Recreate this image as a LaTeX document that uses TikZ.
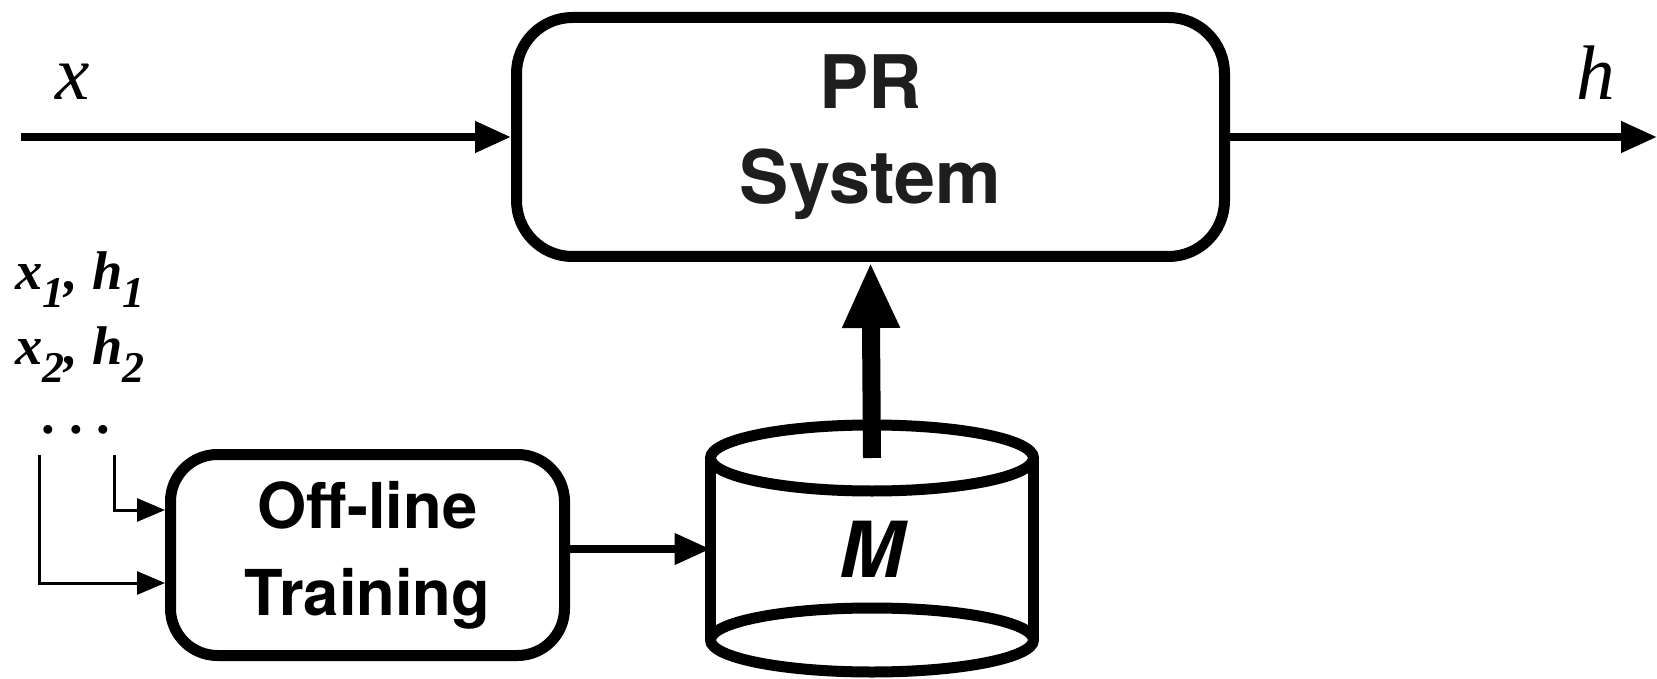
\documentclass[tikz,border=0pt]{standalone}
\usepackage{fontspec}
\setmainfont{Liberation Serif}
\setsansfont{TeX Gyre Heros}
\usepackage{tikz}
\usetikzlibrary{positioning, arrows.meta, calc}
\definecolor{prgray}{HTML}{1E1E1E}
\newcommand{\lowsub}[1]{\raisebox{-5pt}{\fontsize{12.5}{13}\selectfont #1}}

\begin{document}
\begin{tikzpicture}[
  box/.style={draw, line width=0.11cm, rounded corners=#1, align=center, font=\sffamily\bfseries},
  wall/.style={line width=0.11cm},
  flow/.style={->, line width=0.075cm},
  feed/.style={-{Triangle[length=0.28cm, width=0.23cm]}, line width=0.03cm},
  bigflow/.style={-{Triangle[length=0.66cm, width=0.53cm]}, line width=0.18cm},
  sym/.style={font=\fontsize{22}{26}\selectfont\itshape, inner sep=0},
  pairs/.style={font=\fontsize{15.5}{18}\selectfont\bfseries\itshape, inner sep=0, anchor=base west},
  >={Triangle[length=0.36cm, width=0.30cm]}
]
\useasboundingbox (0,0) rectangle (16.57,6.78);
% main system on top, training and model store below
\node[box=0.56cm, minimum width=7.08cm, minimum height=2.39cm, text=prgray,
  font=\sffamily\bfseries\fontsize{21}{27.2}\selectfont] (pr) at (8.705,5.41) {PR\\System};
\node[box=0.47cm, minimum width=3.94cm, minimum height=2.01cm,
  font=\sffamily\bfseries\fontsize{18}{24.7}\selectfont] (off) at (3.675,1.23) {Off-line\\Training};
\node[minimum width=3.23cm, minimum height=1.82cm, outer sep=0,
  font=\sffamily\bfseries\itshape\fontsize{22}{26}\selectfont] (store) at (8.72,1.29) {M};
% cylinder of the model store
\draw[wall] (store.north west) -- (store.south west);
\draw[wall] (store.north east) -- (store.south east);
\draw[wall] (store.north) ellipse [x radius=1.615, y radius=0.33];
\draw[wall] (store.south) ellipse [x radius=1.615, y radius=0.32];
% input and output of the system
\coordinate (in) at (0.21,5.41);
\coordinate (out) at (16.57,5.41);
\draw[flow] (in) -- (pr.west);
\draw[flow] (pr.east) -- (out);
\node[sym, anchor=base] (xlab) at (0.73,5.78) {x};
\node[sym, anchor=base] (hlab) at (15.96,5.78) {h};
% training pairs
\node[pairs] (pair1) at (0.15,3.88) {x\lowsub{1}, h\lowsub{1}};
\node[pairs] (pair2) at (0.15,3.13) {x\lowsub{2}, h\lowsub{2}};
\node[pairs, anchor=base] (more) at (0.78,2.45) {.\ .\ .};
\coordinate (b1) at (0.39,2.23);
\coordinate (b2) at (1.14,2.23);
\draw[feed] (b1) |- ([yshift=-0.28cm]off.west);
\draw[feed] (b2) |- ([yshift=0.45cm]off.west);
% training -> store -> system
\draw[flow] (off.east |- store) -- (store.west);
\draw[bigflow] (store.north) -- (pr.south);
\end{tikzpicture}
\end{document}
